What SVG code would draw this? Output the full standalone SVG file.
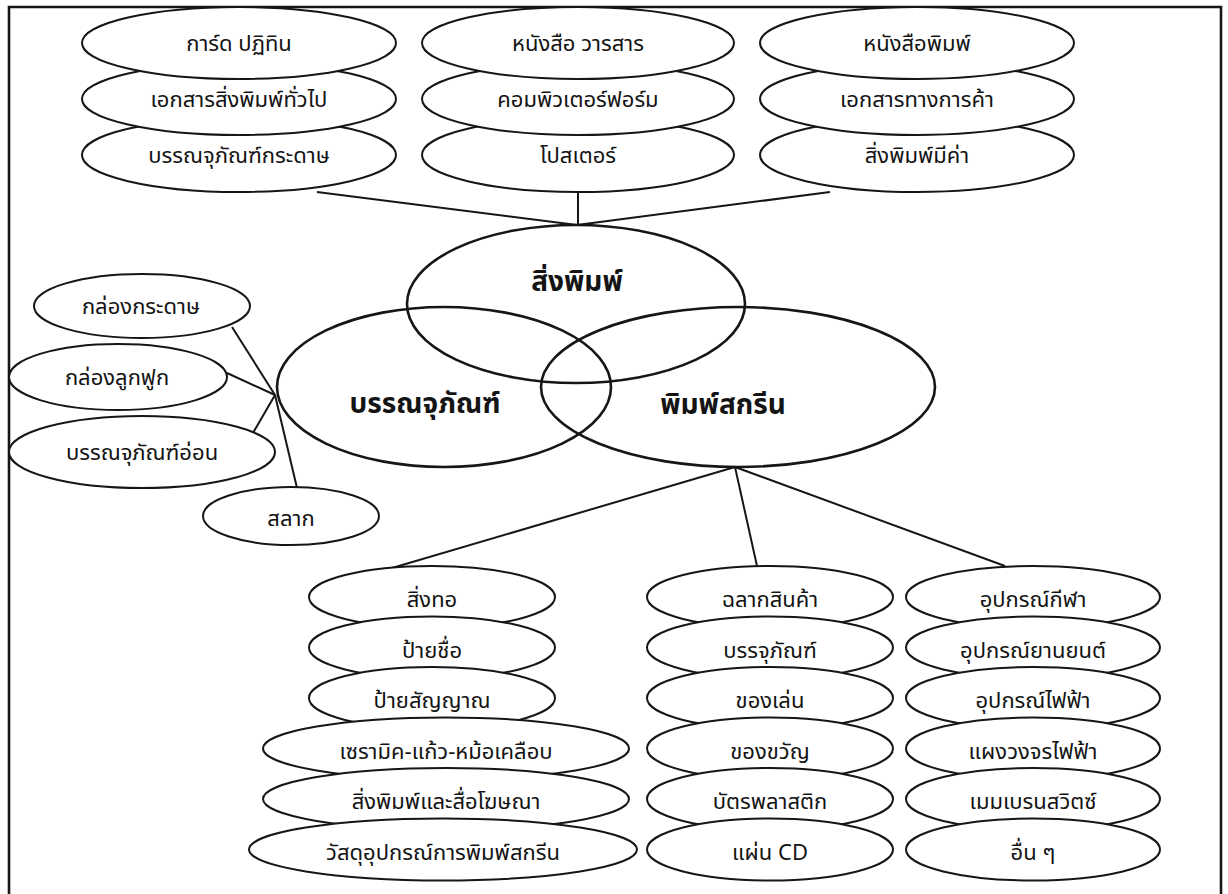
<svg xmlns="http://www.w3.org/2000/svg" width="1228" height="894" viewBox="0 0 1228 894">
<style>
.n ellipse{fill:#fff;stroke:#161616;stroke-width:2}
.big ellipse{fill:none;stroke:#161616;stroke-width:2.6}
text{font-family:"Noto Sans Thai","Tahoma","Noto Sans","DejaVu Sans",sans-serif;fill:#141414;text-anchor:middle;font-size:22px}
.b text{font-weight:bold;font-size:28px}
.conn line{stroke:#161616;stroke-width:2}
</style>
<rect width="1228" height="894" fill="#fff"/>
<path d="M9,894 V7 H1221 V894" fill="none" stroke="#161616" stroke-width="2.6"/>
<g class="conn" id="connectors">
<line x1="317" y1="192" x2="577" y2="225"/>
<line x1="578" y1="191" x2="578" y2="225"/>
<line x1="830" y1="192" x2="577" y2="225"/>
<line x1="232" y1="327" x2="275" y2="395"/>
<line x1="227" y1="373" x2="275" y2="395"/>
<line x1="253" y1="433" x2="275" y2="395"/>
<line x1="275" y1="395" x2="297" y2="488"/>
<line x1="735" y1="467" x2="392" y2="568"/>
<line x1="735" y1="467" x2="757" y2="566"/>
<line x1="735" y1="467" x2="1005" y2="566"/>
</g>
<!-- top row (upper drawn on top) -->
<g class="n" id="t1c"><ellipse cx="239" cy="155" rx="157" ry="37"/><text x="239" y="163">บรรณจุภัณฑ์กระดาษ</text></g>
<g class="n" id="t1b"><ellipse cx="239" cy="99" rx="157" ry="36"/><text x="239" y="107">เอกสารสิ่งพิมพ์ทั่วไป</text></g>
<g class="n" id="t1a"><ellipse cx="239" cy="43" rx="157" ry="36"/><text x="239" y="51">การ์ด ปฏิทิน</text></g>
<g class="n" id="t2c"><ellipse cx="578" cy="155" rx="156" ry="37"/><text x="578" y="163">โปสเตอร์</text></g>
<g class="n" id="t2b"><ellipse cx="578" cy="99" rx="156" ry="36"/><text x="578" y="107">คอมพิวเตอร์ฟอร์ม</text></g>
<g class="n" id="t2a"><ellipse cx="578" cy="43" rx="156" ry="36"/><text x="578" y="51">หนังสือ วารสาร</text></g>
<g class="n" id="t3c"><ellipse cx="917" cy="155" rx="157" ry="37"/><text x="917" y="163">สิ่งพิมพ์มีค่า</text></g>
<g class="n" id="t3b"><ellipse cx="917" cy="99" rx="157" ry="36"/><text x="917" y="107">เอกสารทางการค้า</text></g>
<g class="n" id="t3a"><ellipse cx="917" cy="43" rx="157" ry="36"/><text x="917" y="51">หนังสือพิมพ์</text></g>
<!-- central venn -->
<g class="big b" id="print"><ellipse cx="576" cy="304" rx="169" ry="79"/><text x="577" y="291">สิ่งพิมพ์</text></g>
<g class="big b" id="pack"><ellipse cx="444" cy="387" rx="167" ry="80"/><text x="425" y="413">บรรณจุภัณฑ์</text></g>
<g class="big b" id="screen"><ellipse cx="738" cy="387" rx="197" ry="80"/><text x="723" y="414">พิมพ์สกรีน</text></g>
<!-- left cluster -->
<g class="n" id="l1"><ellipse cx="142" cy="306" rx="108" ry="32"/><text x="141" y="314">กล่องกระดาษ</text></g>
<g class="n" id="l2"><ellipse cx="118" cy="377" rx="109" ry="33"/><text x="117" y="385">กล่องลูกฟูก</text></g>
<g class="n" id="l3"><ellipse cx="142" cy="452" rx="133" ry="36"/><text x="142" y="460">บรรณจุภัณฑ์อ่อน</text></g>
<g class="n" id="l4"><ellipse cx="291" cy="516" rx="88" ry="29"/><text x="291" y="526">สลาก</text></g>
<!-- bottom left column (lower drawn on top) -->
<g class="n" id="a1"><ellipse cx="432" cy="597" rx="123" ry="31"/><text x="432" y="607">สิ่งทอ</text></g>
<g class="n" id="a2"><ellipse cx="432" cy="647.5" rx="123" ry="31"/><text x="432" y="657.5">ป้ายชื่อ</text></g>
<g class="n" id="a3"><ellipse cx="432" cy="698" rx="123" ry="31"/><text x="432" y="708">ป้ายสัญญาณ</text></g>
<g class="n" id="a4"><ellipse cx="446" cy="748.5" rx="183" ry="31"/><text x="446" y="758.5">เซรามิค-แก้ว-หม้อเคลือบ</text></g>
<g class="n" id="a5"><ellipse cx="446" cy="799" rx="183" ry="31"/><text x="446" y="809">สิ่งพิมพ์และสื่อโฆษณา</text></g>
<g class="n" id="a6"><ellipse cx="443" cy="849.5" rx="194" ry="31"/><text x="443" y="859.5">วัสดุอุปกรณ์การพิมพ์สกรีน</text></g>
<!-- bottom middle column -->
<g class="n" id="b1"><ellipse cx="770" cy="597" rx="123" ry="31"/><text x="770" y="607">ฉลากสินค้า</text></g>
<g class="n" id="b2"><ellipse cx="770" cy="647.5" rx="123" ry="31"/><text x="770" y="657.5">บรรจุภัณฑ์</text></g>
<g class="n" id="b3"><ellipse cx="770" cy="698" rx="123" ry="31"/><text x="770" y="708">ของเล่น</text></g>
<g class="n" id="b4"><ellipse cx="770" cy="748.5" rx="123" ry="31"/><text x="770" y="758.5">ของขวัญ</text></g>
<g class="n" id="b5"><ellipse cx="770" cy="799" rx="123" ry="31"/><text x="770" y="809">บัตรพลาสติก</text></g>
<g class="n" id="b6"><ellipse cx="770" cy="849.5" rx="123" ry="31"/><text x="770" y="859.5">แผ่น CD</text></g>
<!-- bottom right column -->
<g class="n" id="c1"><ellipse cx="1033" cy="597" rx="127" ry="31"/><text x="1033" y="607">อุปกรณ์กีฬา</text></g>
<g class="n" id="c2"><ellipse cx="1033" cy="647.5" rx="127" ry="31"/><text x="1033" y="657.5">อุปกรณ์ยานยนต์</text></g>
<g class="n" id="c3"><ellipse cx="1033" cy="698" rx="127" ry="31"/><text x="1033" y="708">อุปกรณ์ไฟฟ้า</text></g>
<g class="n" id="c4"><ellipse cx="1033" cy="748.5" rx="127" ry="31"/><text x="1033" y="758.5">แผงวงจรไฟฟ้า</text></g>
<g class="n" id="c5"><ellipse cx="1033" cy="799" rx="127" ry="31"/><text x="1033" y="809">เมมเบรนสวิตซ์</text></g>
<g class="n" id="c6"><ellipse cx="1033" cy="849.5" rx="127" ry="31"/><text x="1033" y="859.5">อื่น ๆ</text></g>
</svg>
